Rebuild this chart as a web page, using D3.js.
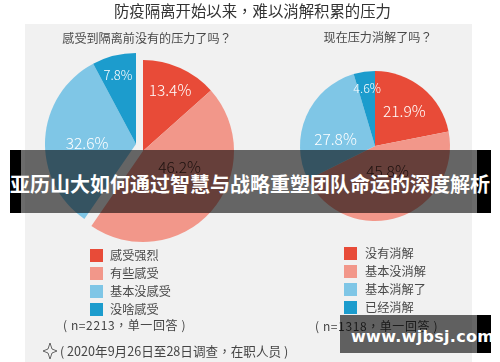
<!DOCTYPE html>
<html>
<head>
<meta charset="utf-8">
<script src="https://cdn.jsdelivr.net/npm/d3@7/dist/d3.min.js"></script>
<style>
  html, body { margin: 0; padding: 0; background: #fff; overflow: hidden; }
</style>
</head>
<body>
<div id="chart"></div>
<script>
const leftCategories = ["感受强烈", "有些感受", "基本没感受", "没啥感受"];
const leftValues = [13.4, 46.2, 32.6, 7.8];
const rightCategories = ["没有消解", "基本没消解", "基本消解了", "已经消解"];
const rightValues = [21.9, 45.8, 27.8, 4.6];
const sliceColours = ["#e84c38", "#f2978a", "#7fc6e6", "#1f9ccd"];

const width = 500;
const height = 362;

const svg = d3.select("#chart").append("svg")
    .attr("width", width)
    .attr("height", height)
    .style("display", "block")
    .attr("font-family", "'Noto Sans CJK SC', 'Noto Sans', sans-serif");

// the source is a soft, resized photo so the artwork gets a small blur
svg.append("defs").append("filter")
    .attr("id", "soft")
    .append("feGaussianBlur")
    .attr("stdDeviation", 0.45);

// TC face because its full width punctuation is centred like in the original
const art = svg.append("g")
    .attr("filter", "url(#soft)")
    .attr("font-family", "'Noto Sans CJK TC', 'Noto Sans', sans-serif");

art.append("rect")
    .attr("x", 25).attr("y", 24)
    .attr("width", 447).attr("height", 338)
    .attr("fill", "#f1f1f1");

art.append("text")
    .attr("x", 252.5).attr("y", 17)
    .attr("text-anchor", "middle")
    .attr("font-size", 15.4)
    .attr("fill", "#333")
    .text("防疫隔离开始以来，难以消解积累的压力");

function subtitle(x, y, label) {
    art.append("text")
        .attr("x", x).attr("y", y)
        .attr("text-anchor", "middle")
        .attr("font-size", 12.1)
        .attr("fill", "#4a4a4a")
        .text(label);
}
subtitle(147, 43, "感受到隔离前没有的压力了吗？");
subtitle(378, 42, "现在压力消解了吗？");

function drawPie(opts) {
    const slices = d3.pie().sort(null).value(d => d)(opts.values);
    const arc = d3.arc().innerRadius(0).outerRadius(opts.radius);
    const labelArc = d3.arc()
        .innerRadius(opts.labelRadius)
        .outerRadius(opts.labelRadius);

    slices.forEach((d, i) => {
        const c = opts.centers[i];
        art.append("path")
            .attr("transform", `translate(${c[0]},${c[1]})`)
            .attr("d", arc(d))
            .attr("fill", sliceColours[i]);
    });

    // labels sit on the centroid, then get pushed to where the original has them
    slices.forEach((d, i) => {
        const c = opts.centers[i];
        const pos = labelArc.centroid(d);
        art.append("text")
            .attr("x", c[0] + pos[0] + opts.nudges[i][0])
            .attr("y", c[1] + pos[1] + opts.nudges[i][1])
            .attr("dy", "0.35em")
            .attr("text-anchor", "middle")
            .attr("font-size", opts.fontSizes[i])
            .attr("font-weight", 300)
            .attr("fill", i === 1 ? "#4a2a26" : "#fff")
            .text(d.data.toFixed(1) + "%");
    });
}

// left pie is exploded: the red pair and the blue pair have different centres
drawPie({
    values: leftValues,
    radius: 91,
    labelRadius: 66,
    centers: [[143, 151], [143, 151], [136, 144], [136, 144]],
    nudges: [[0, 0], [-13, -27], [17, 3.5], [-2, -5]],
    fontSizes: [15.5, 15.5, 15.5, 13]
});

drawPie({
    values: rightValues,
    radius: 75,
    labelRadius: 54,
    centers: [[375, 146], [375, 146], [375, 146], [375, 146]],
    nudges: [[-5, 7], [-5, -26], [10, 15], [0, -4]],
    fontSizes: [15.5, 15.5, 15.5, 12.5]
});

function drawLegend(labels, x, y0, textX) {
    const y = d3.scalePoint().domain(labels).range([y0, y0 + 54]);
    labels.forEach((label, i) => {
        art.append("rect")
            .attr("x", x).attr("y", y(label))
            .attr("width", 13).attr("height", 13)
            .attr("fill", sliceColours[i]);
        art.append("text")
            .attr("x", textX).attr("y", y(label) + 6.5)
            .attr("dy", "0.36em")
            .attr("font-size", 12.2)
            .attr("fill", "#4a4a4a")
            .text(label);
    });
}
drawLegend(leftCategories, 90, 249, 110);
drawLegend(rightCategories, 344, 247, 365);

function note(x, y, label, size, spacing) {
    art.append("text")
        .attr("x", x).attr("y", y)
        .attr("dy", "0.36em")
        .attr("font-size", size)
        .attr("letter-spacing", spacing)
        .attr("fill", "#444")
        .text(label);
}
note(63, 326, "( n=2213，单一回答 )", 12, 0.6);
note(315, 327, "( n=1318，单一回答 )", 12, 0.6);
note(60, 351, "( 2020年9月26日至28日调查，在职人员 )", 12.6, 0);

// little four point star in front of the footnote
art.append("path")
    .attr("d", d3.line().curve(d3.curveLinearClosed)(
        [[50, 343], [52, 349], [57, 351], [52, 353], [50, 359], [48, 353], [43, 351], [48, 349]]))
    .attr("fill", "none")
    .attr("stroke", "#555")
    .attr("stroke-width", 0.9);

// banner pasted over the picture, black at the ends, see through in the middle
const banner = svg.append("g");
banner.append("rect")
    .attr("x", 10).attr("y", 150)
    .attr("width", 11).attr("height", 63)
    .attr("fill", "#000");
banner.append("rect")
    .attr("x", 477).attr("y", 150)
    .attr("width", 14).attr("height", 63)
    .attr("fill", "#000");
banner.append("rect")
    .attr("x", 21).attr("y", 150)
    .attr("width", 456).attr("height", 63)
    .attr("fill", "#000")
    .attr("fill-opacity", 0.58);
banner.append("text")
    .attr("x", 250).attr("y", 185)
    .attr("dy", "0.36em")
    .attr("text-anchor", "middle")
    .attr("font-size", 20)
    .attr("font-weight", 700)
    .attr("fill", "#fff")
    .text("亚历山大如何通过智慧与战略重塑团队命运的深度解析");

// watermark box in the lower right corner
const mark = svg.append("g");
mark.append("rect")
    .attr("x", 477).attr("y", 315)
    .attr("width", 14).attr("height", 38)
    .attr("fill", "#000");
mark.append("rect")
    .attr("x", 340).attr("y", 315)
    .attr("width", 137).attr("height", 38)
    .attr("fill", "#000")
    .attr("fill-opacity", 0.6);
mark.append("text")
    .attr("x", 351).attr("y", 337)
    .attr("dy", "0.3em")
    .attr("font-size", 16)
    .attr("font-weight", 700)
    .attr("letter-spacing", 0.3)
    .style("font-family", "'DejaVu Sans', sans-serif")
    .attr("fill", "#fff")
    .text("www.wjbsj.com");
</script>
</body>
</html>
